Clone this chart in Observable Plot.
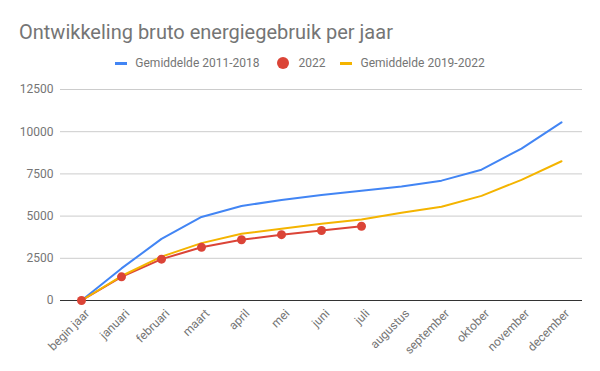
<!DOCTYPE html>
<html>
<head>
<meta charset="utf-8">
<script src="https://cdn.jsdelivr.net/npm/d3@7"></script>
<script src="https://cdn.jsdelivr.net/npm/@observablehq/plot@0.6"></script>
<style>
  html, body { margin: 0; padding: 0; background: #fff; }
  body { width: 600px; height: 371px; overflow: hidden; font-family: Roboto, sans-serif; }
  #header { position: relative; height: 78px; }
  #title { position: absolute; left: 19px; top: 22px; font-size: 20px; line-height: 20px; color: #757575; white-space: nowrap; }
  #legend { position: absolute; left: 0; width: 600px; top: 57px; display: flex; justify-content: center; align-items: center; font-size: 12px; line-height: 12px; color: #757575; }
  .sw { display: inline-block; width: 12px; height: 3px; margin-right: 8px; }
  .dot { display: inline-block; width: 12px; height: 12px; border-radius: 50%; margin-right: 10px; }
  .item { display: flex; align-items: center; }
</style>
</head>
<body>
<div id="header">
  <div id="title">Ontwikkeling bruto energiegebruik per jaar</div>
  <div id="legend"></div>
</div>
<div id="chart"></div>
<script>
const months = ["begin jaar","januari","februari","maart","april","mei","juni","juli","augustus","september","oktober","november","december"];
const seriesNames = ["Gemiddelde 2011-2018", "2022", "Gemiddelde 2019-2022"];
const seriesColors = ["#4285F4", "#DB4437", "#F4B400"];
const avg2011_2018 = [0, 1900, 3650, 4950, 5600, 5950, 6250, 6500, 6750, 7100, 7750, 9000, 10550];
const values2022 = [0, 1400, 2450, 3150, 3600, 3900, 4150, 4400];
const avg2019_2022 = [0, 1450, 2600, 3400, 3950, 4250, 4550, 4800, 5200, 5550, 6200, 7150, 8250];
const yTicks = [0, 2500, 5000, 7500, 10000, 12500];

// legend
const legend = document.getElementById("legend");
const gaps = [17, 15, 0];
seriesNames.forEach((name, i) => {
  const item = document.createElement("div");
  item.className = "item";
  item.style.marginRight = gaps[i] + "px";
  const mark = document.createElement("span");
  mark.className = i === 1 ? "dot" : "sw";
  mark.style.background = seriesColors[i];
  item.appendChild(mark);
  const t = document.createElement("span");
  t.textContent = name;
  item.appendChild(t);
  legend.appendChild(item);
});

const toRows = (arr, s) => arr.map((v, i) => ({month: months[i], value: v, series: s}));
const blue = toRows(avg2011_2018, seriesNames[0]);
const red = toRows(values2022, seriesNames[1]);
const yellow = toRows(avg2019_2022, seriesNames[2]);

const chart = Plot.plot({
  width: 600,
  height: 293,
  marginTop: 11,
  marginBottom: 71,
  marginLeft: 60,
  marginRight: 18,
  style: { fontFamily: "Roboto, sans-serif", fontSize: "12px", color: "#757575", background: "#fff" },
  x: { type: "point", domain: months, padding: 0.5 },
  y: { domain: [0, 12500] },
  marks: [
    Plot.gridY(yTicks, { stroke: "#cccccc", strokeOpacity: 1 }),
    Plot.axisY(yTicks, { tickSize: 0, tickPadding: 7, label: null, fill: "#757575", tickFormat: d => String(d) }),
    Plot.axisX({ tickSize: 0, tickRotate: -45, label: null, fill: "#757575", tickPadding: 6, dx: 6, dy: 5 }),
    Plot.ruleY([0], { stroke: "#333333" }),
    Plot.line(blue, { x: "month", y: "value", stroke: seriesColors[0], strokeWidth: 2 }),
    Plot.line(red, { x: "month", y: "value", stroke: seriesColors[1], strokeWidth: 2 }),
    Plot.line(yellow, { x: "month", y: "value", stroke: seriesColors[2], strokeWidth: 2 }),
    Plot.dot(red, { x: "month", y: "value", r: 4.5, fill: seriesColors[1], stroke: "none" })
  ]
});
document.getElementById("chart").appendChild(chart);
</script>
</body>
</html>
